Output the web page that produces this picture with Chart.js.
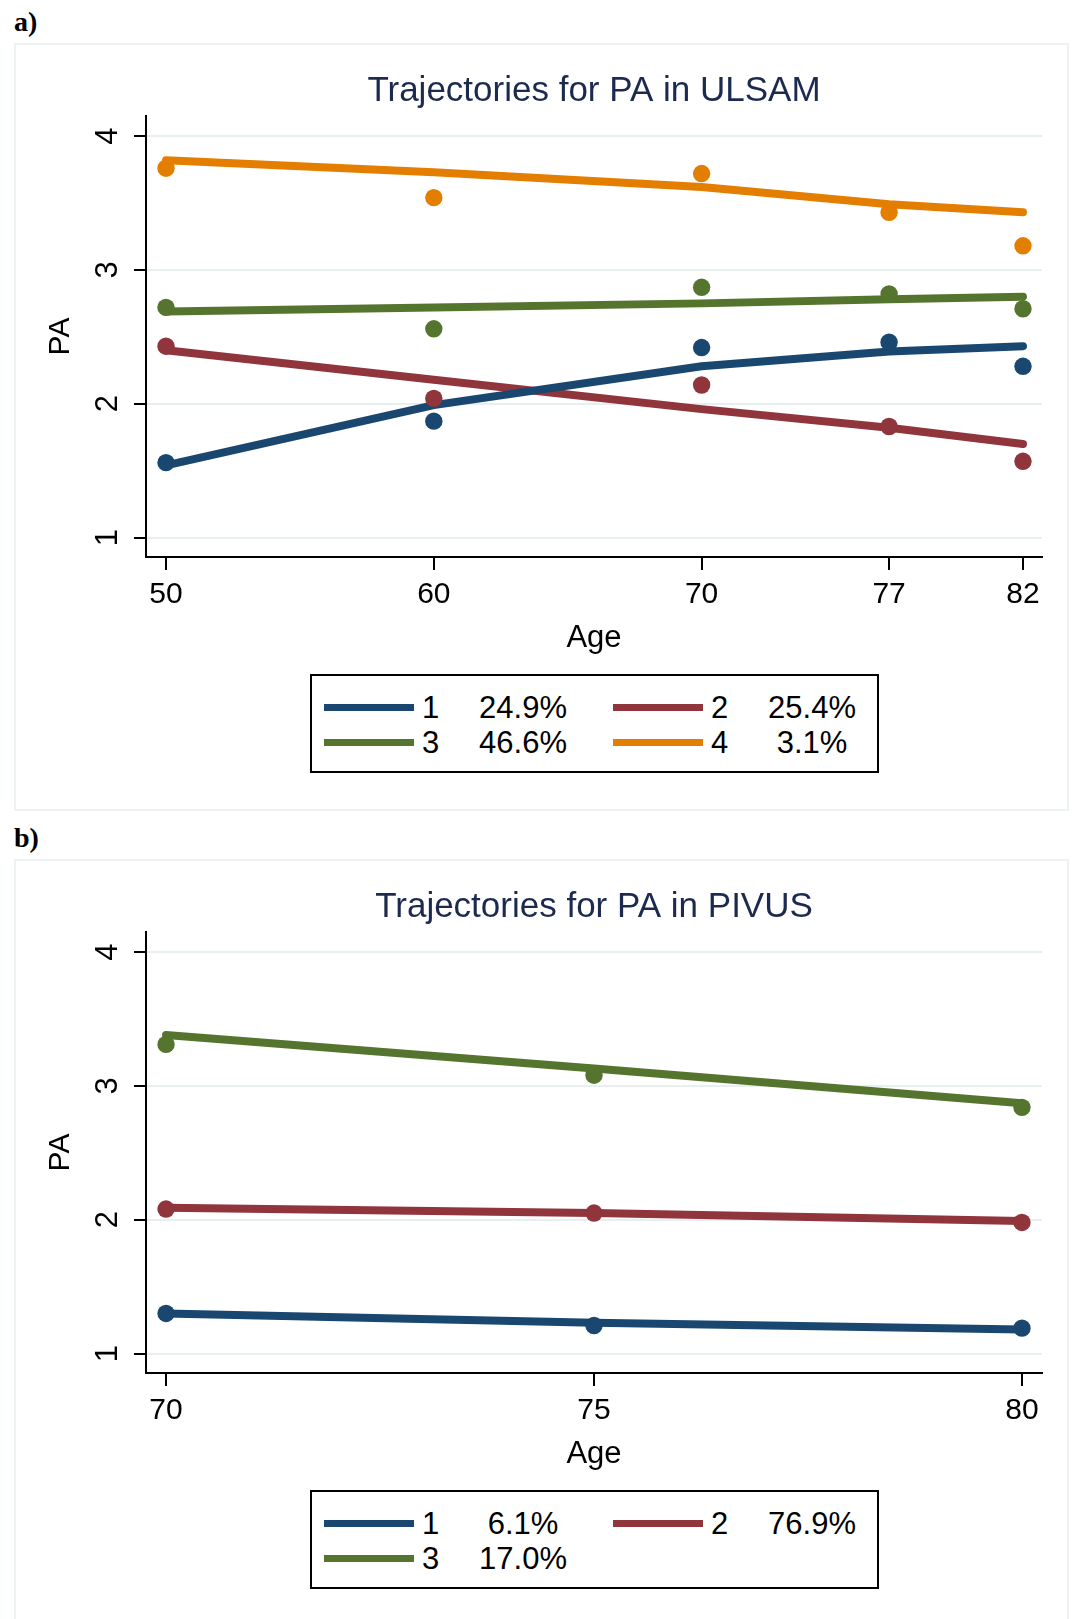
<!DOCTYPE html>
<html>
<head>
<meta charset="utf-8">
<title>Trajectories for PA</title>
<script src="https://cdn.jsdelivr.net/npm/chart.js@4.4.1/dist/chart.umd.min.js"></script>
<style>
  html, body { margin: 0; padding: 0; background: #fff; }
  body { width: 1073px; height: 1619px; position: relative; overflow: hidden; }
  .tag { position: absolute; left: 14px; font: bold 28px 'Liberation Serif', 'Times New Roman', serif; line-height: 28px; color: #000; }
  .frame { position: absolute; left: 14px; width: 1055px; border: 2px solid #edf2f3; box-sizing: border-box; }
  .panel { position: absolute; left: 0; width: 1073px; height: 790px; }
  .panel canvas { position: absolute; left: 0; top: 0; }
  .legend { position: absolute; left: 310px; top: 674px; width: 569px; height: 99px; border: 2px solid #000; box-sizing: border-box; background: #fff; }
  .legend .swatch { position: absolute; width: 90px; height: 7px; }
  .legend .txt { position: absolute; font: 31px 'Liberation Sans', Arial, sans-serif; line-height: 36px; color: #000; white-space: nowrap; }
  .legend .pct { width: 110px; text-align: center; }
</style>
</head>
<body>
<div class="tag" style="top:8px">a)</div>
<div class="frame" style="top:43px; height:768px"></div>
<div class="tag" style="top:824px">b)</div>
<div class="frame" style="top:859px; height:800px"></div>

<div class="panel" id="panelA" style="top:0px">
  <canvas id="chartA" width="1073" height="670"></canvas>
</div>
<div class="panel" id="panelB" style="top:816px">
  <canvas id="chartB" width="1073" height="670"></canvas>
</div>

<script>
// Stata s2color palette: navy, maroon, forest green, dark orange
const colors = ['#1a476f', '#90353b', '#55752f', '#e37e00'];
const gridColor = '#e8eff1';
const fontFamily = "'Liberation Sans', Arial, sans-serif";

const yTicks = [1, 2, 3, 4];

// a) ULSAM
const ulsamTitle = 'Trajectories for PA in ULSAM';
const ulsamAges = [50, 60, 70, 77, 82];
const ulsamFit1 = [1.54, 1.99, 2.28, 2.39, 2.43];
const ulsamObs1 = [1.56, 1.87, 2.42, 2.46, 2.28];
const ulsamFit2 = [2.40, 2.18, 1.96, 1.82, 1.70];
const ulsamObs2 = [2.43, 2.04, 2.14, 1.83, 1.57];
const ulsamFit3 = [2.69, 2.72, 2.75, 2.78, 2.80];
const ulsamObs3 = [2.72, 2.56, 2.87, 2.82, 2.71];
const ulsamFit4 = [3.82, 3.73, 3.62, 3.49, 3.43];
const ulsamObs4 = [3.76, 3.54, 3.72, 3.43, 3.18];
const ulsamGroups = ['1', '2', '3', '4'];
const ulsamShares = ['24.9%', '25.4%', '46.6%', '3.1%'];

// b) PIVUS
const pivusTitle = 'Trajectories for PA in PIVUS';
const pivusAges = [70, 75, 80];
const pivusFit1 = [1.30, 1.23, 1.18];
const pivusObs1 = [1.30, 1.21, 1.19];
const pivusFit2 = [2.09, 2.05, 1.99];
const pivusObs2 = [2.08, 2.05, 1.98];
const pivusFit3 = [3.38, 3.13, 2.87];
const pivusObs3 = [3.31, 3.08, 2.84];
const pivusGroups = ['1', '2', '3'];
const pivusShares = ['6.1%', '76.9%', '17.0%'];

function makeChart(canvasId, title, ages, fits, obs, xMin, xMax) {
    const pointSets = obs.map((o, g) => ({
        data: ages.map((a, i) => ({ x: a, y: o[i] })),
        showLine: false,
        pointRadius: 8.7,
        pointBorderWidth: 0,
        pointBackgroundColor: colors[g],
        borderColor: colors[g],
        order: 0
    }));
    const lineSets = fits.map((f, g) => ({
        data: ages.map((a, i) => ({ x: a, y: f[i] })),
        borderColor: colors[g],
        borderWidth: 8,
        borderCapStyle: 'round',
        borderJoinStyle: 'round',
        pointRadius: 0,
        tension: 0,
        fill: false,
        order: 1
    }));

    return new Chart(document.getElementById(canvasId), {
        type: 'line',
        data: { datasets: lineSets.concat(pointSets) },
        options: {
            responsive: false,
            animation: false,
            devicePixelRatio: 1,
            events: [],
            clip: false,
            layout: { padding: { left: 0, right: 31, top: 0, bottom: 13 } },
            plugins: {
                legend: { display: false },
                tooltip: { enabled: false },
                title: {
                    display: true,
                    text: title,
                    fullSize: false,
                    color: '#1b2a4e',
                    font: { family: fontFamily, size: 35, weight: 'normal', lineHeight: 1.2 },
                    padding: { top: 70, bottom: 4 }
                }
            },
            scales: {
                x: {
                    type: 'linear',
                    min: xMin,
                    max: xMax,
                    afterBuildTicks: s => { s.ticks = ages.map(v => ({ value: v })); },
                    afterFit: s => { s.height = 100; },
                    border: { display: true, color: '#000', width: 2 },
                    grid: { drawOnChartArea: false, color: '#000', lineWidth: 2, tickLength: 13 },
                    ticks: {
                        autoSkip: false, minRotation: 0, maxRotation: 0, padding: 7,
                        color: '#000', font: { family: fontFamily, size: 30 }
                    },
                    title: {
                        display: true, text: 'Age', color: '#000',
                        font: { family: fontFamily, size: 31, lineHeight: 1.2 },
                        padding: { top: 0, bottom: 0 }
                    }
                },
                y: {
                    type: 'linear',
                    min: 0.855,
                    max: 4.15,
                    afterBuildTicks: s => { s.ticks = yTicks.map(v => ({ value: v })); },
                    afterFit: s => { s.width = 146; },
                    border: { display: true, color: '#000', width: 2 },
                    grid: { color: gridColor, lineWidth: 2, tickColor: '#000', tickWidth: 2, tickLength: 12 },
                    ticks: {
                        minRotation: 90, maxRotation: 90, crossAlign: 'center', padding: 17,
                        color: '#000', font: { family: fontFamily, size: 31 }
                    },
                    title: {
                        display: true, text: 'PA', color: '#000',
                        font: { family: fontFamily, size: 30, lineHeight: 1.2 },
                        padding: { top: 43, bottom: 0 }
                    }
                }
            }
        }
    });
}

function makeLegend(panelId, groups, shares) {
    const box = document.createElement('div');
    box.className = 'legend';
    groups.forEach((key, g) => {
        const col = g % 2;
        const row = Math.floor(g / 2);
        const x0 = col === 0 ? 12 : 301;
        const lineMid = row === 0 ? 31 : 66;
        const textMid = row === 0 ? 32 : 67;

        const sw = document.createElement('div');
        sw.className = 'swatch';
        sw.style.left = x0 + 'px';
        sw.style.top = (lineMid - 3.5) + 'px';
        sw.style.background = colors[g];
        box.appendChild(sw);

        const k = document.createElement('div');
        k.className = 'txt';
        k.textContent = key;
        k.style.left = (x0 + 98) + 'px';
        k.style.top = (textMid - 17.7) + 'px';
        box.appendChild(k);

        const p = document.createElement('div');
        p.className = 'txt pct';
        p.textContent = shares[g];
        p.style.left = (x0 + 199 - 55) + 'px';
        p.style.top = (textMid - 17.7) + 'px';
        box.appendChild(p);
    });
    document.getElementById(panelId).appendChild(box);
}

makeChart('chartA', ulsamTitle, ulsamAges,
    [ulsamFit1, ulsamFit2, ulsamFit3, ulsamFit4],
    [ulsamObs1, ulsamObs2, ulsamObs3, ulsamObs4],
    49.253, 82.71);
makeLegend('panelA', ulsamGroups, ulsamShares);

makeChart('chartB', pivusTitle, pivusAges,
    [pivusFit1, pivusFit2, pivusFit3],
    [pivusObs1, pivusObs2, pivusObs3],
    69.766, 80.234);
makeLegend('panelB', pivusGroups, pivusShares);
</script>
</body>
</html>
